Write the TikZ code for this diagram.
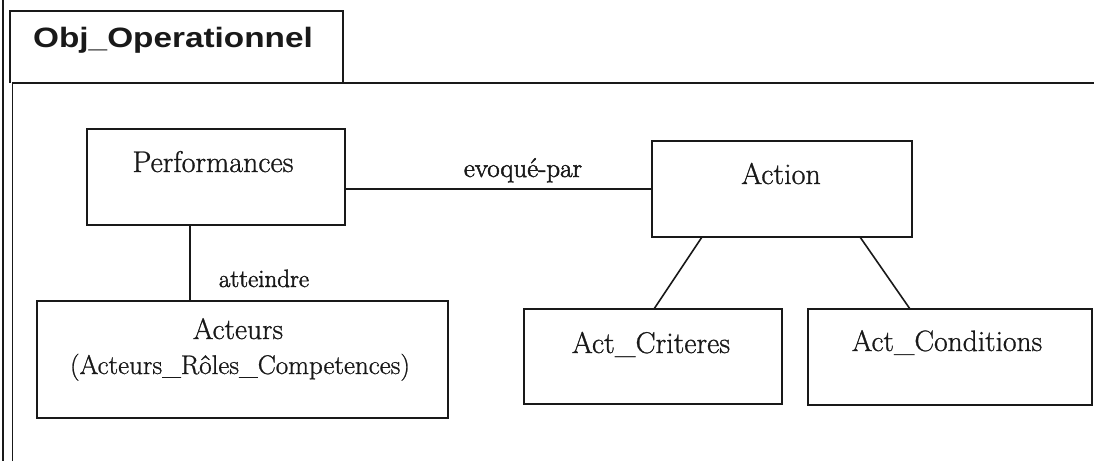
\documentclass[tikz,border=0pt]{standalone}
\usepackage{fontspec}
\usepackage{graphicx}
\newfontfamily\headfont{Liberation Sans}
\newfontfamily\namefont{Latin Modern Roman}[FakeBold=0.9]
\newfontfamily\rolefont{Latin Modern Roman}[FakeBold=1.8]
\tikzset{
  frameline/.style={line width=1.6pt, draw=black!90},
  classbox/.style={draw=black!90, line width=1.6pt, rectangle, inner sep=0pt, outer sep=0pt, fill=white},
  lbl/.style={anchor=base, inner sep=0pt, text=black!90, font=\namefont},
  rolelbl/.style={anchor=base, inner sep=0pt, text=black!90, font=\rolefont},
  link/.style={line width=1.6pt, draw=black!90},
}
\newcommand{\fsz}[1]{\fontsize{#1}{#1}\selectfont}
\begin{document}
\begin{tikzpicture}[x=1pt,y=-1pt]
\useasboundingbox (0,0) rectangle (1094,461);
\fill[white] (0,0) rectangle (1094,461);

% package frame: outer rule, tab and body outline
\draw[frameline] (3,0) -- (3,461);
\draw[frameline] (12.5,461) -- (12.5,83) -- (1094,83);
\draw[frameline] (10,83) -- (10,11) -- (343,11) -- (343,83);
\node[lbl, anchor=base west] (pkgname) at (33,47)
  {\scalebox{1.19}[1]{\headfont\bfseries\fsz{28}Obj\_Operationnel}};

% classes
\node[classbox, minimum width=258pt, minimum height=96pt] (perf) at (216,177) {};
\node[classbox, minimum width=411pt, minimum height=117pt] (acteurs) at (242.5,359.5) {};
\node[classbox, minimum width=260pt, minimum height=96pt] (action) at (782,189) {};
\node[classbox, minimum width=258pt, minimum height=95pt] (criteres) at (653,356.5) {};
\node[classbox, minimum width=284pt, minimum height=96pt] (conditions) at (950,357) {};

% class names
\node[lbl] (perfT) at (213,172) {\fsz{30}Performances};
\node[lbl] (actionT) at (781,184) {\fsz{30}Action};
\node[lbl] (acteursT) at (238,339) {\fsz{29.5}Acteurs};
\node[lbl] (acteursT2) at (240,374) {\fsz{27}(Acteurs\_Rôles\_Competences)};
\node[lbl] (criteresT) at (651,353) {\fsz{30}Act\_Criteres};
\node[lbl] (conditionsT) at (947,351) {\fsz{29.5}Act\_Conditions};

% associations
\draw[link] (perf.east |- action.west) -- (action.west);
\node[rolelbl] (evoque) at (523,177) {\fsz{27}evoqué-par};

\draw[link] ([xshift=103pt]perf.south west) -- ([xshift=153pt]acteurs.north west);
\node[rolelbl] (atteindre) at (264,287) {\fsz{25}atteindre};

\draw[link] ([xshift=50pt]action.south west) -- ([xshift=130pt]criteres.north west);
\draw[link] ([xshift=208pt]action.south west) -- ([xshift=102pt]conditions.north west);
\end{tikzpicture}
\end{document}
